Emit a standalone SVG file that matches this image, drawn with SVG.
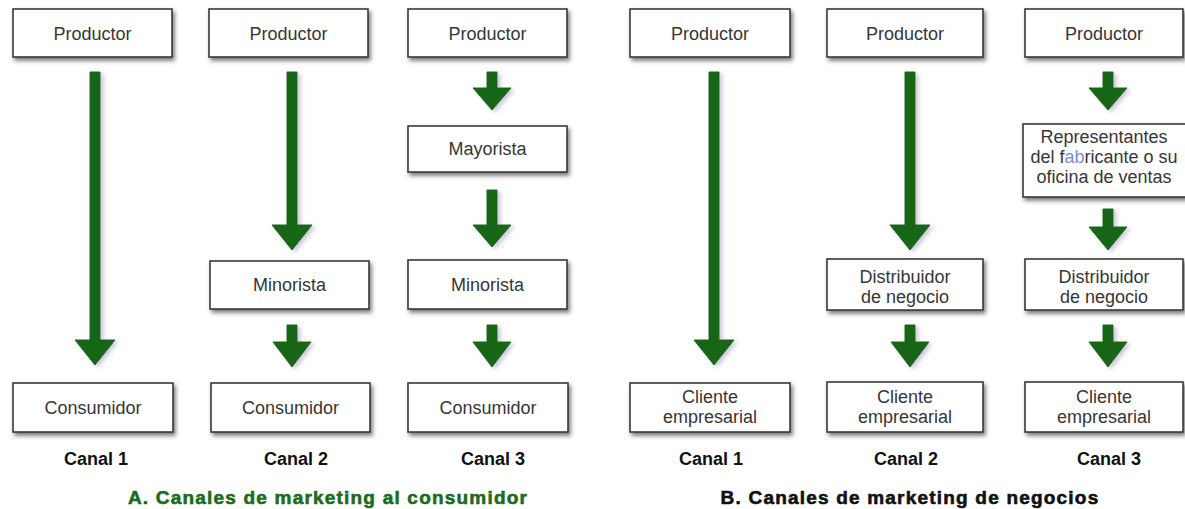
<svg xmlns="http://www.w3.org/2000/svg" width="1185" height="509" viewBox="0 0 1185 509">
<defs>
<filter id="sh" x="-10%" y="-20%" width="130%" height="170%">
<feDropShadow dx="2" dy="3" stdDeviation="2" flood-color="#333" flood-opacity="0.65"/>
</filter>
<filter id="ash" x="-50%" y="-10%" width="200%" height="130%">
<feDropShadow dx="3" dy="2" stdDeviation="2" flood-color="#9a90b0" flood-opacity="0.5"/>
</filter>
<style>
.box{fill:#fff;stroke:#3a3a3a;stroke-width:1.6;filter:url(#sh)}
.t{font-family:"Liberation Sans",Arial,sans-serif;font-size:18px;fill:#363636;text-anchor:middle}
.c{font-family:"Liberation Sans",Arial,sans-serif;font-size:18px;font-weight:bold;fill:#111;text-anchor:middle}
.ttl{font-family:"Liberation Sans",Arial,sans-serif;font-size:19px;font-weight:bold;letter-spacing:1.2px;stroke-width:0.6;text-anchor:middle}
.arr{fill:#196619;stroke:#196619;stroke-width:1;stroke-linejoin:round;filter:url(#ash)}
</style>
</defs>
<rect width="1185" height="509" fill="#fff"/>

<g id="connectors">
<path class="arr" d="M90 72 L100 72 L100 340 L115 340 L95 365 L75 340 L90 340Z"/>
<path class="arr" d="M287 72 L297 72 L297 225 L312 225 L292 250 L272 225 L287 225Z"/>
<path class="arr" d="M287 325 L297 325 L297 342 L311 342 L292 367 L273 342 L287 342Z"/>
<path class="arr" d="M487 72 L497 72 L497 88 L511 88 L492 110 L473 88 L487 88Z"/>
<path class="arr" d="M487 190 L497 190 L497 225 L511 225 L492 247 L473 225 L487 225Z"/>
<path class="arr" d="M487 325 L497 325 L497 342 L511 342 L492 367 L473 342 L487 342Z"/>
<path class="arr" d="M709 72 L719 72 L719 340 L734 340 L714 365 L694 340 L709 340Z"/>
<path class="arr" d="M905 72 L915 72 L915 225 L930 225 L910 250 L890 225 L905 225Z"/>
<path class="arr" d="M905 325 L915 325 L915 342 L929 342 L910 367 L891 342 L905 342Z"/>
<path class="arr" d="M1103 72 L1113 72 L1113 88 L1127 88 L1108 110 L1089 88 L1103 88Z"/>
<path class="arr" d="M1103 209 L1113 209 L1113 227 L1127 227 L1108 250 L1089 227 L1103 227Z"/>
<path class="arr" d="M1103 325 L1113 325 L1113 342 L1127 342 L1108 367 L1089 342 L1103 342Z"/>
</g>

<g id="a1-productor"><rect class="box" x="13" y="9" width="159" height="48"/><text class="t" x="92.5" y="39.5">Productor</text></g>
<g id="a1-consumidor"><rect class="box" x="13" y="383" width="160" height="49"/><text class="t" x="93" y="414">Consumidor</text></g>

<g id="a2-productor"><rect class="box" x="209" y="9" width="159" height="48"/><text class="t" x="288.5" y="39.5">Productor</text></g>
<g id="a2-minorista"><rect class="box" x="210" y="261" width="159" height="48"/><text class="t" x="289.5" y="291">Minorista</text></g>
<g id="a2-consumidor"><rect class="box" x="211" y="383" width="159" height="49"/><text class="t" x="290.5" y="414">Consumidor</text></g>

<g id="a3-productor"><rect class="box" x="408" y="9" width="159" height="48"/><text class="t" x="487.5" y="39.5">Productor</text></g>
<g id="a3-mayorista"><rect class="box" x="408" y="126" width="159" height="46"/><text class="t" x="487.5" y="155">Mayorista</text></g>
<g id="a3-minorista"><rect class="box" x="408" y="260" width="159" height="49"/><text class="t" x="487.5" y="291">Minorista</text></g>
<g id="a3-consumidor"><rect class="box" x="408" y="383" width="160" height="49"/><text class="t" x="488" y="414">Consumidor</text></g>

<g id="b1-productor"><rect class="box" x="630" y="9" width="160" height="48"/><text class="t" x="710" y="39.5">Productor</text></g>
<g id="b1-cliente"><rect class="box" x="630" y="383" width="160" height="49"/><text class="t" x="710" y="403">Cliente</text><text class="t" x="710" y="423">empresarial</text></g>

<g id="b2-productor"><rect class="box" x="827" y="9" width="156" height="48"/><text class="t" x="905" y="39.5">Productor</text></g>
<g id="b2-distribuidor"><rect class="box" x="827" y="259" width="156" height="51"/><text class="t" x="905" y="283">Distribuidor</text><text class="t" x="905" y="303">de negocio</text></g>
<g id="b2-cliente"><rect class="box" x="827" y="382" width="156" height="50"/><text class="t" x="905" y="403">Cliente</text><text class="t" x="905" y="423">empresarial</text></g>

<g id="b3-productor"><rect class="box" x="1025" y="9" width="158" height="48"/><text class="t" x="1104" y="39.5">Productor</text></g>
<g id="b3-representantes"><rect class="box" x="1023" y="124" width="166" height="73"/><text class="t" x="1104" y="143">Representantes</text><text class="t" x="1104" y="163">del f<tspan fill="#7f8ccc">ab</tspan>ricante o su</text><text class="t" x="1104" y="183">oficina de ventas</text></g>
<g id="b3-distribuidor"><rect class="box" x="1025" y="259" width="158" height="51"/><text class="t" x="1104" y="283">Distribuidor</text><text class="t" x="1104" y="303">de negocio</text></g>
<g id="b3-cliente"><rect class="box" x="1025" y="382" width="158" height="50"/><text class="t" x="1104" y="403">Cliente</text><text class="t" x="1104" y="423">empresarial</text></g>

<g id="labels">
<text class="c" x="96" y="465">Canal 1</text>
<text class="c" x="296" y="465">Canal 2</text>
<text class="c" x="493" y="465">Canal 3</text>
<text class="c" x="711" y="465">Canal 1</text>
<text class="c" x="906" y="465">Canal 2</text>
<text class="c" x="1109" y="465">Canal 3</text>
<text class="ttl" x="328" y="504" fill="#1d6b1d" stroke="#1d6b1d">A. Canales de marketing al consumidor</text>
<text class="ttl" x="910" y="504" fill="#111" stroke="#111">B. Canales de marketing de negocios</text>
</g>
</svg>
